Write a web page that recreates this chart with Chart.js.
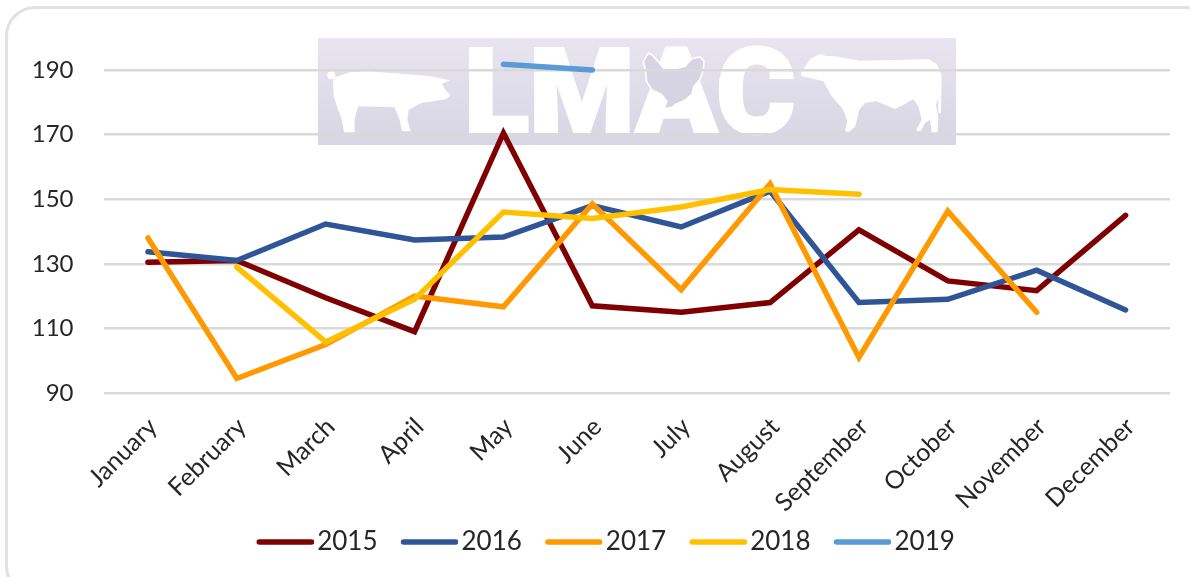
<!DOCTYPE html>
<html>
<head>
<meta charset="utf-8">
<script src="https://cdn.jsdelivr.net/npm/chart.js@4"></script>
<style>
  html, body { margin: 0; padding: 0; background: #ffffff; overflow: hidden; }
  #stage { position: relative; width: 1190px; height: 577px; overflow: hidden; }
  #card { position: absolute; left: 5px; top: 6px; width: 1210px; height: 590px; box-sizing: border-box;
          border: 3px solid #e1e1e1; border-radius: 30px; background: #ffffff; }
  #logo { position: absolute; left: 0; top: 0; }
  #chartWrap { position: absolute; left: 0; top: 0; width: 1190px; height: 577px; }
</style>
</head>
<body>
<div id="stage">
  <div id="card"></div>
  <!-- marca de agua detras del grafico -->
  <svg id="logo" width="1190" height="577" viewBox="0 0 1190 577">
    <defs>
      <linearGradient id="logoBg" x1="0" y1="0" x2="0" y2="1">
        <stop offset="0" stop-color="#e8e5f0"/>
        <stop offset="1" stop-color="#d8d5e4"/>
      </linearGradient>
    </defs>
    <rect x="318" y="38" width="638" height="107" fill="url(#logoBg)"/>
    <text x="464" y="133" font-family="Roboto" font-weight="900" font-size="118" fill="#ffffff"
          stroke="#ffffff" stroke-width="3" textLength="331" lengthAdjust="spacingAndGlyphs">LMAC</text>
    <g transform="translate(318,38) scale(0.3333)" fill="#ffffff">
      <circle cx="40" cy="112" r="12"/>
      <path d="M52 118 L95 103 L150 100 L260 108 L340 115 L395 127 L372 137 L382 155 L397 172 L385 183 L345 190 L310 195 L272 215 L268 245 L278 280 L252 280 L245 245 L230 208 L120 205 L110 245 L110 283 L78 283 L70 240 L60 215 L47 175 L45 130 Z"/>
    </g>
    <g transform="translate(620,38) scale(0.3333)" fill="#d6d3e3" stroke="#ffffff" stroke-width="5">
      <path d="M85 45 L98 52 L118 75 L130 90 L165 92 L195 85 L215 62 L240 57 L252 70 L250 95 L240 125 L222 145 L215 170 L190 190 L165 200 L158 208 L130 212 L112 214 L135 205 L140 190 L125 170 L95 155 L80 130 L75 90 L70 70 Z"/>
    </g>
    <g transform="translate(790,38) scale(0.3333)" fill="#ffffff">
      <path d="M32 105 L62 62 L90 48 L110 55 L135 55 L210 68 L320 66 L415 63 L440 78 L455 110 L453 225 L445 225 L445 180 L438 200 L445 240 L443 283 L425 283 L420 245 L405 255 L392 280 L378 278 L395 245 L385 205 L370 183 L345 198 L315 213 L295 205 L260 190 L225 195 L208 215 L195 268 L175 283 L165 278 L172 250 L160 215 L125 175 L100 130 L60 120 L35 115 Z"/>
    </g>
  </svg>
  <div id="chartWrap"><canvas id="priceChart" width="1190" height="577"></canvas></div>
</div>
<script>
// Datos
const months = ['January', 'February', 'March', 'April', 'May', 'June', 'July', 'August', 'September', 'October', 'November', 'December'];
const yTicks = [90, 110, 130, 150, 170, 190];
const years = ['2015', '2016', '2017', '2018', '2019'];
const series2015 = [130.5, 131, 119.5, 109, 170.5, 117, 115, 118, 140.5, 124.7, 121.7, 145];
const series2016 = [133.7, 131, 142.3, 137.4, 138.3, 148, 141.4, 152.5, 118, 119, 128, 115.7];
const series2017 = [138, 94.5, 105, 120, 116.7, 148.5, 122, 154.7, 101, 146.3, 115, null];
const series2018 = [null, 129, 105.8, 119, 146, 144, 147.6, 153, 151.5, null, null, null];
const series2019 = [null, null, null, null, 191.8, 190, null, null, null, null, null, null];
const seriesValues = [series2015, series2016, series2017, series2018, series2019];
const seriesColors = ['#7f0000', '#2f5597', '#ff9900', '#ffc000', '#5b9bd5'];

const textColor = '#262626';
const gridColor = '#d9d9d9';

// Muestra de la leyenda: linea redondeada con hueco a la izquierda
function legendSwatch(color) {
    const c = document.createElement('canvas');
    c.width = 66;
    c.height = 8;
    const g = c.getContext('2d');
    g.strokeStyle = color;
    g.lineWidth = 5.5;
    g.lineCap = 'round';
    g.beginPath();
    g.moveTo(11.5, 4);
    g.lineTo(63.5, 4);
    g.stroke();
    return c;
}

// La leyenda del original no esta centrada en el lienzo y pisa la caja del eje x
const legendShift = {
    id: 'legendShift',
    afterLayout(chart) {
        const legend = chart.legend;
        legend.left += 21;
        legend.right += 21;
        legend.top -= 16;
        legend.bottom -= 16;
    }
};

const ctx = document.getElementById('priceChart').getContext('2d');
const priceChart = new Chart(ctx, {
    type: 'line',
    plugins: [legendShift],
    data: {
        labels: months,
        datasets: years.map((year, i) => ({
            label: year,
            data: seriesValues[i],
            borderColor: seriesColors[i],
            backgroundColor: seriesColors[i],
            borderWidth: 5.5,
            borderCapStyle: 'round',
            pointRadius: 0,
            tension: 0,
            fill: false,
            clip: false,
            order: years.length - i
        }))
    },
    options: {
        responsive: false,
        animation: false,
        layout: { padding: { top: 70, right: 20, bottom: -4, left: 0 } },
        plugins: {
            tooltip: { enabled: false },
            legend: {
                position: 'bottom',
                labels: {
                    usePointStyle: true,
                    pointStyleWidth: 47,
                    padding: 24,
                    color: textColor,
                    font: { family: 'Lato', size: 26 },
                    generateLabels: chart => chart.data.datasets.map((ds, i) => ({
                        text: ds.label,
                        fontColor: textColor,
                        pointStyle: legendSwatch(seriesColors[i]),
                        lineWidth: 0,
                        datasetIndex: i
                    }))
                }
            }
        },
        scales: {
            x: {
                offset: true,
                grid: { display: false, drawTicks: false },
                border: { display: false },
                afterFit: scale => {
                    scale.height = 128;
                    scale.paddingLeft = 0;
                    scale.paddingRight = 0;
                },
                ticks: {
                    color: textColor,
                    font: { family: 'Lato', size: 25 },
                    minRotation: 45,
                    maxRotation: 45,
                    autoSkip: false,
                    padding: 19,
                    labelOffset: 5
                }
            },
            y: {
                min: 90,
                max: 190,
                afterFit: scale => { scale.width = 103.5; },
                afterBuildTicks: scale => { scale.ticks = yTicks.map(v => ({ value: v })); },
                grid: { color: gridColor, lineWidth: 2.5, drawTicks: false },
                border: { display: false },
                ticks: {
                    color: textColor,
                    font: { family: 'Lato', size: 24 },
                    padding: 30
                }
            }
        }
    }
});
</script>
</body>
</html>
